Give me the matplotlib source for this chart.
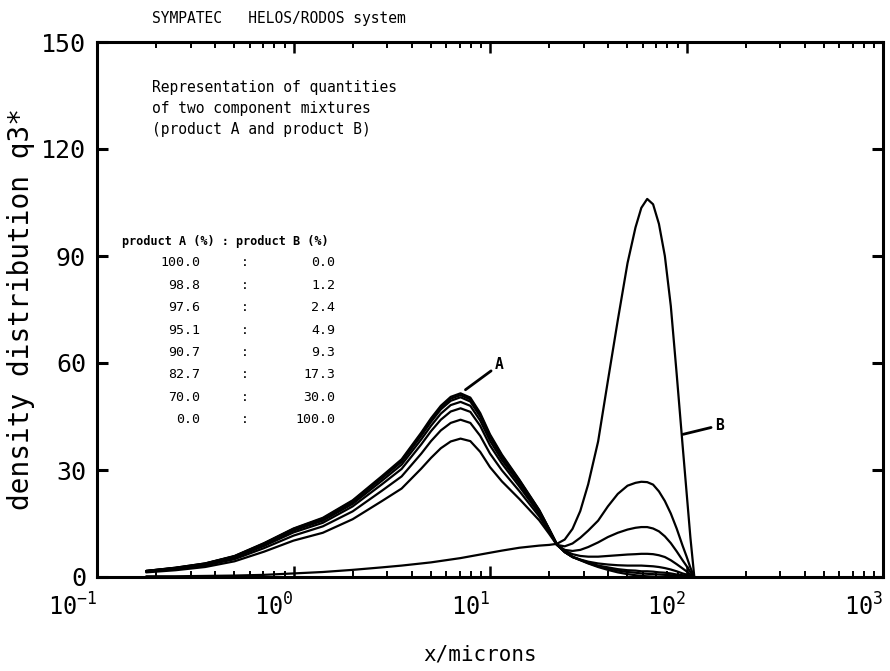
import matplotlib
matplotlib.use('Agg')
import matplotlib.pyplot as plt
from matplotlib.ticker import LogLocator, NullFormatter

# particle size grid (microns)
x_um = [0.178, 0.251, 0.355, 0.501, 0.708, 1.0, 1.41, 2.0, 2.82, 3.55, 4.47,
        5.01, 5.62, 6.31, 7.08, 7.94, 8.91, 10.0, 11.5, 14.1, 17.8, 20.0,
        21.9, 24.0, 26.3, 28.8, 31.6, 35.5, 39.8, 44.7, 50.1, 55.0, 58.9,
        63.1, 67.6, 72.4, 77.6, 83.2, 89.1, 95.5, 100.0, 104.7, 109.6]

# density distribution q3* for each mixture
q3_a100 = [1.7, 2.6, 3.8, 5.9, 9.5, 13.6, 16.6, 21.5, 28.3, 33.0, 40.5,
           44.5, 48.0, 50.5, 51.5, 50.3, 46.0, 40.0, 34.3, 27.3, 18.8, 13.5,
           9.2, 7.0, 5.6, 4.7, 3.8, 2.8, 2.0, 1.3, 0.8, 0.5, 0.3, 0.2, 0.1, 0.0,
           0.0, 0.0, 0.0, 0.0, 0.0, 0.0, 0.0]
q3_a98_8 = [1.7, 2.6, 3.8, 5.8, 9.4, 13.5, 16.4, 21.3, 28.0, 32.7, 40.1,
            44.1, 47.5, 50.0, 51.0, 49.8, 45.6, 39.6, 34.0, 27.1, 18.7, 13.4,
            9.2, 7.0, 5.6, 4.8, 3.9, 3.0, 2.4, 1.8, 1.4, 1.2, 1.0, 0.9, 0.8, 0.7,
            0.6, 0.5, 0.4, 0.3, 0.2, 0.1, 0.0]
q3_a97_6 = [1.7, 2.5, 3.7, 5.8, 9.3, 13.3, 16.2, 21.0, 27.7, 32.3, 39.6,
            43.5, 47.0, 49.4, 50.4, 49.2, 45.0, 39.2, 33.6, 26.8, 18.5, 13.3,
            9.1, 7.0, 5.6, 4.8, 4.1, 3.2, 2.7, 2.2, 1.9, 1.8, 1.6, 1.6, 1.5, 1.3,
            1.2, 1.0, 0.7, 0.5, 0.3, 0.1, 0.0]
q3_a95_1 = [1.6, 2.5, 3.6, 5.6, 9.1, 13.0, 15.8, 20.5, 27.0, 31.5, 38.6,
            42.4, 45.8, 48.2, 49.1, 48.0, 43.9, 38.2, 32.8, 26.2, 18.1, 13.1,
            9.0, 7.0, 5.7, 4.9, 4.3, 3.8, 3.5, 3.3, 3.2, 3.2, 3.2, 3.1, 3.0, 2.8,
            2.5, 2.1, 1.6, 1.0, 0.7, 0.3, 0.0]
q3_a90_7 = [1.6, 2.4, 3.5, 5.4, 8.7, 12.5, 15.2, 19.8, 26.0, 30.3, 37.2,
            40.9, 44.1, 46.4, 47.3, 46.3, 42.4, 36.9, 31.8, 25.4, 17.7, 12.9,
            9.0, 7.4, 6.4, 5.9, 5.7, 5.7, 5.9, 6.1, 6.3, 6.4, 6.5, 6.5, 6.4, 6.1,
            5.6, 4.7, 3.6, 2.4, 1.6, 0.7, 0.0]
q3_a82_7 = [1.5, 2.2, 3.2, 5.0, 8.1, 11.6, 14.2, 18.4, 24.2, 28.2, 34.6,
            38.1, 41.1, 43.2, 44.1, 43.2, 39.6, 34.6, 29.9, 24.1, 17.0, 12.6,
            9.0, 7.6, 7.3, 7.6, 8.4, 9.7, 11.2, 12.4, 13.3, 13.8, 14.0, 14.0, 13.6, 12.8,
            11.4, 9.5, 7.2, 4.7, 3.1, 1.4, 0.0]
q3_a70_0 = [1.3, 1.9, 2.8, 4.4, 7.1, 10.2, 12.4, 16.2, 21.3, 24.8, 30.4,
            33.4, 36.1, 38.0, 38.8, 38.1, 35.1, 30.8, 26.8, 21.9, 15.9, 12.1,
            9.0, 8.6, 9.4, 11.0, 13.0, 15.8, 19.8, 23.3, 25.6, 26.4, 26.7, 26.6, 25.9, 24.0,
            21.3, 17.8, 13.6, 8.8, 5.8, 2.6, 0.0]
q3_a0 = [0.2, 0.2, 0.3, 0.4, 0.6, 1.0, 1.4, 2.0, 2.7, 3.2, 3.8,
         4.1, 4.5, 4.9, 5.3, 5.8, 6.3, 6.8, 7.4, 8.2, 8.8, 9.0,
         9.3, 10.5, 13.5, 18.5, 26.0, 38.0, 55.0, 72.0, 88.0, 98.0, 103.5, 106.0, 104.5, 99.0,
         90.0, 76.0, 57.0, 37.0, 24.0, 11.0, 0.0]

product_a = ['100.0', '98.8', '97.6', '95.1', '90.7', '82.7', '70.0', '0.0']
product_b = ['0.0', '1.2', '2.4', '4.9', '9.3', '17.3', '30.0', '100.0']

y_ticks = [0, 30, 60, 90, 120, 150]
x_ticks = [0.1, 1, 10, 100, 1000]
x_tick_labels = [r'$10^{-1}$', r'$10^{0}$', r'$10^{1}$', r'$10^{2}$', r'$10^{3}$']

plt.rcParams['font.family'] = 'DejaVu Sans Mono'
plt.rcParams['mathtext.default'] = 'regular'

W, H = 890, 671
fig = plt.figure(figsize=(W / 100, H / 100), dpi=100)
ax = fig.add_axes([97 / W, 1 - 577 / H, 786 / W, 535 / H])

curves = [q3_a100, q3_a98_8, q3_a97_6, q3_a95_1, q3_a90_7, q3_a82_7, q3_a70_0, q3_a0]
for q in curves:
    ax.plot(x_um, q, color='black', lw=1.6, solid_capstyle='round', solid_joinstyle='round')

ax.set_xscale('log')
ax.set_xlim(0.1, 1000)
ax.set_ylim(0, 150)

ax.set_xticks(x_ticks)
ax.set_xticklabels(x_tick_labels)
ax.xaxis.set_minor_locator(LogLocator(base=10, subs=range(2, 10)))
ax.xaxis.set_minor_formatter(NullFormatter())
ax.set_yticks(y_ticks)
ax.set_yticklabels([str(v) for v in y_ticks])

ax.tick_params(axis='x', which='major', direction='in', length=8, width=1.8,
               top=True, labelsize=17, pad=12)
ax.tick_params(axis='x', which='minor', direction='in', length=4, width=1.4, top=True)
ax.tick_params(axis='y', which='major', direction='in', length=8, width=2.2,
               right=True, labelsize=18, pad=8)
plt.setp(ax.get_xticklabels(), ha='right')
for s in ax.spines.values():
    s.set_linewidth(2.2)

ax.set_ylabel('density distribution q3*', fontsize=20)
ax.yaxis.set_label_coords(-0.079, 0.5)
fig.text(480 / W, 1 - 655 / H, 'x/microns', fontsize=15, ha='center', va='center')

fig.text(152 / W, 1 - 18 / H, 'SYMPATEC   HELOS/RODOS system', fontsize=10.5, va='center')
fig.text(152 / W, 1 - 80 / H,
         'Representation of quantities\nof two component mixtures\n(product A and product B)',
         fontsize=10.5, va='top', linespacing=1.5)

# mixture table
fig.text(122 / W, 1 - 241 / H, 'product A (%) : product B (%)',
         fontsize=8.5, fontweight='bold', va='center')
for i, (pa, pb) in enumerate(zip(product_a, product_b)):
    yy = 1 - (263 + i * 22.4) / H
    fig.text(200 / W, yy, pa, fontsize=9.5, ha='right', va='center')
    fig.text(245 / W, yy, ':', fontsize=9.5, ha='center', va='center')
    fig.text(335 / W, yy, pb, fontsize=9.5, ha='right', va='center')

ax.annotate('A', xy=(7.5, 52.5), xytext=(10.6, 59.5), fontsize=10.5, fontweight='bold',
            ha='left', va='center',
            arrowprops=dict(arrowstyle='-', lw=2, color='black', shrinkA=1, shrinkB=0))
ax.annotate('B', xy=(96, 40), xytext=(140, 42.5), fontsize=10.5, fontweight='bold',
            ha='left', va='center',
            arrowprops=dict(arrowstyle='-', lw=2, color='black', shrinkA=1, shrinkB=0))

fig.savefig('out.png', dpi=100, facecolor='white')
